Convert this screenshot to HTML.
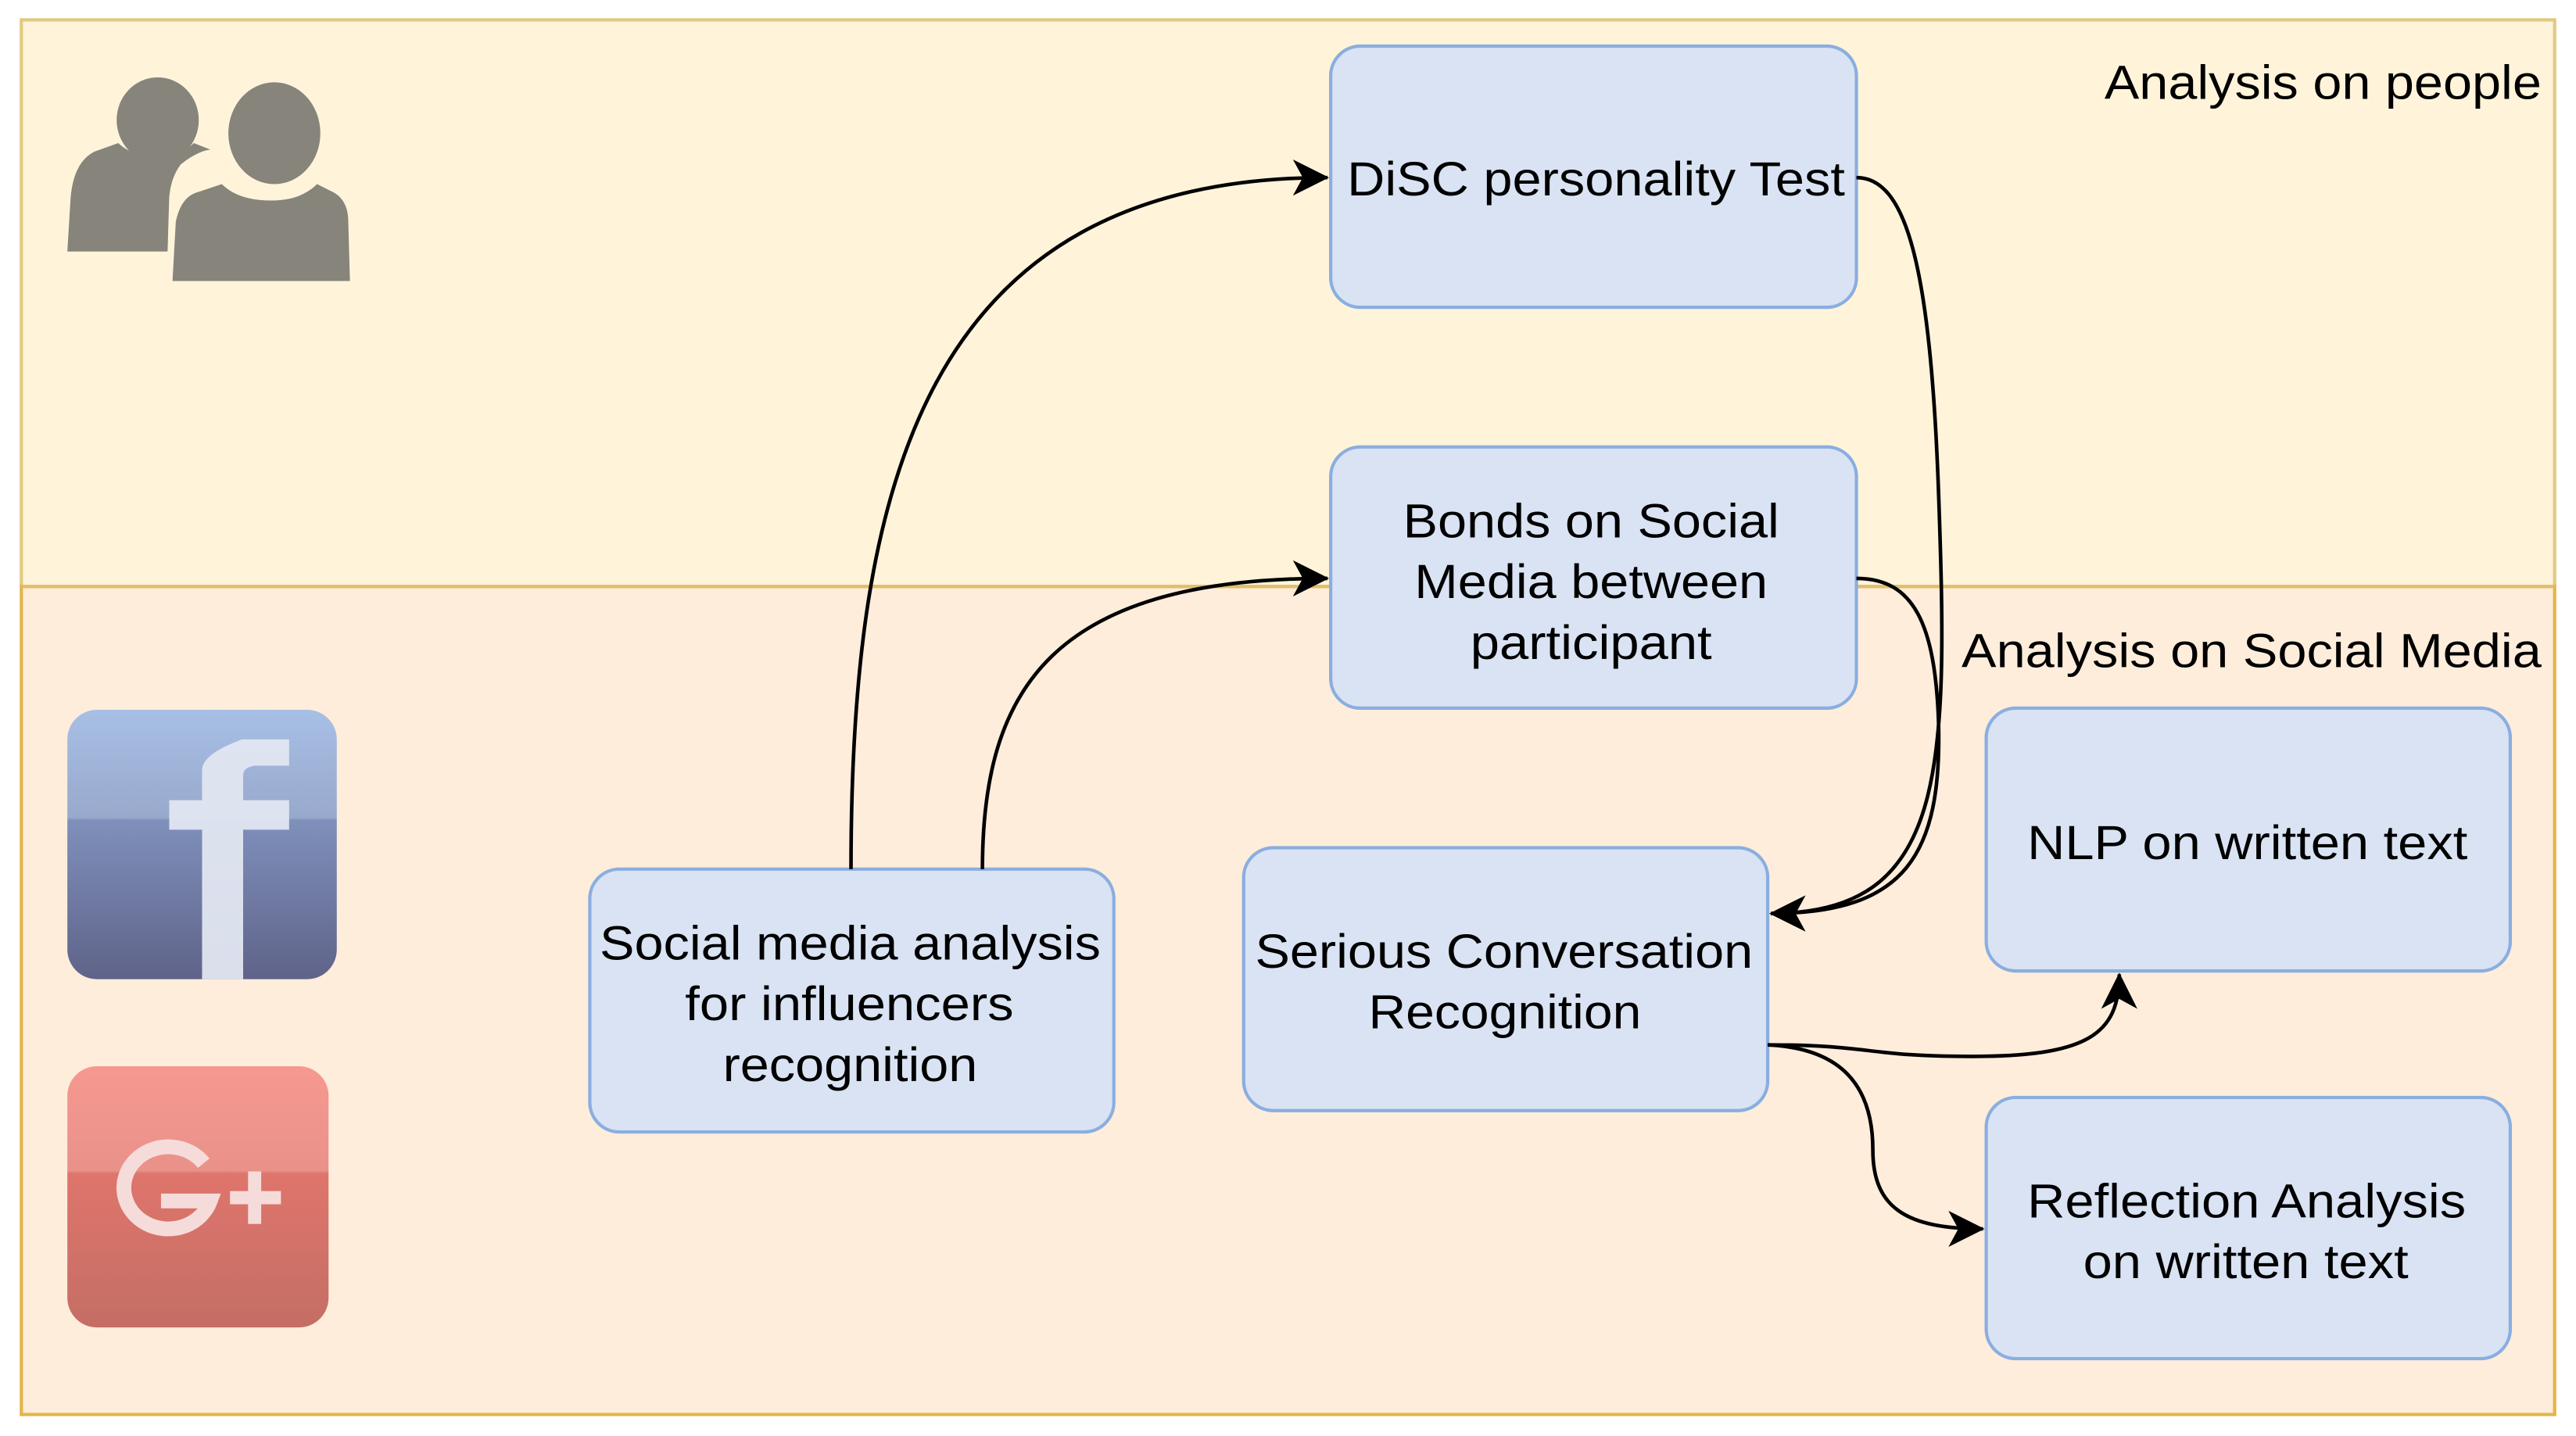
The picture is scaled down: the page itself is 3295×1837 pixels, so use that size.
<!DOCTYPE html>
<html><head><meta charset="utf-8"><style>
html,body{margin:0;padding:0;background:#fff;}
svg{display:block;}
text{font-family:"Liberation Sans",Arial,Helvetica,sans-serif;fill:#000;}
</style></head><body>
<svg width="3295" height="1837" viewBox="0 0 1568 874" xmlns="http://www.w3.org/2000/svg">
<defs>
<marker id="a2" markerWidth="22" markerHeight="22" refX="21" refY="11" orient="auto" markerUnits="userSpaceOnUse">
<path d="M0,0 L22,11 L0,22 L6,11 Z" fill="#000"/>
</marker>
<linearGradient id="fb" x1="0" y1="0" x2="0" y2="1"><stop offset="0" stop-color="#a8bfe6"/><stop offset="0.4" stop-color="#98a9cc"/><stop offset="0.41" stop-color="#7f90bb"/><stop offset="1" stop-color="#5f6389"/></linearGradient>
<linearGradient id="gp" x1="0" y1="0" x2="0" y2="1"><stop offset="0" stop-color="#f69890"/><stop offset="0.4" stop-color="#e9928a"/><stop offset="0.41" stop-color="#df756c"/><stop offset="1" stop-color="#c46e65"/></linearGradient>
</defs>
<rect x="0" y="0" width="1568" height="874" fill="#fff"/>
<rect x="13" y="12" width="1542" height="345" fill="#fff4da" stroke="#e1c982" stroke-width="2"/>
<rect x="13" y="357" width="1542" height="504" fill="#ffeddb" stroke="#e2b54a" stroke-width="2"/>
<line x1="13" y1="357" x2="1555" y2="357" stroke="#e0be6a" stroke-width="2"/>

<!-- people icon -->
<g fill="#86847b">
<ellipse cx="96" cy="73" rx="25" ry="26"/>
<ellipse cx="167" cy="81" rx="28" ry="31"/>
<path d="M41,153 L43,120 Q45,98 58,92 L72,87 Q80,95 96,95 Q110,95 118,87 L128,91 Q120,92 110,100 Q104,108 103,120 L102,153 Z"/>
<path d="M105,171 L107,135 Q110,120 120,117 L135,112 Q145,122 165,122 Q183,122 193,112 L203,117 Q212,122 212,135 L213,171 Z"/>
</g>

<!-- facebook -->
<rect x="41" y="432" width="164" height="164" rx="18" fill="url(#fb)"/>
<path d="M123,596 L123,505 L103,505 L103,487 L123,487 L123,468 Q124,460 140,453 L147,450 L176,450 L176,466 L155,466 Q148,467 148,472 L148,487 L176,487 L176,505 L148,505 L148,596 Z" fill="#e2e6f1" opacity="0.95"/>

<!-- google plus -->
<rect x="41" y="649" width="159" height="159" rx="18" fill="url(#gp)"/>
<g fill="none" stroke="#f5dcda" stroke-width="9">
<path d="M124,708 A27,25 0 1 0 128,731 L98,731"/>
</g>
<rect x="151" y="713" width="8" height="32" fill="#f5dcda"/>
<rect x="140" y="725" width="31" height="8" fill="#f5dcda"/>

<!-- boxes -->
<g fill="#d9e3f3" stroke="#8aaee0" stroke-width="2">
<rect x="810" y="28" width="320" height="159" rx="18"/>
<rect x="810" y="272" width="320" height="159" rx="18"/>
<rect x="359" y="529" width="319" height="160" rx="18"/>
<rect x="757" y="516" width="319" height="160" rx="18"/>
<rect x="1209" y="431" width="319" height="160" rx="18"/>
<rect x="1209" y="668" width="319" height="159" rx="18"/>
</g>

<!-- edges -->
<g fill="none" stroke="#000" stroke-width="2.2" marker-end="url(#a2)">
<path d="M518,529 C518,300 560,108 808,108"/>
<path d="M598,529 C598,420 640,352 808,352"/>
<path d="M1130,108 C1160,108 1175,160 1180,300 C1186,470 1185,556 1078,556"/>
<path d="M1130,352 C1165,352 1178,380 1180,440 C1182,520 1160,556 1078,556"/>
<path d="M1076,636 C1140,636 1135,643 1200,643 C1270,643 1290,630 1290,593"/>
<path d="M1076,636 C1120,638 1140,660 1140,700 C1140,735 1160,748 1207,748"/>
</g>

<!-- labels -->
<g font-size="29" lengthAdjust="spacingAndGlyphs">
<text x="820" y="119" textLength="303" lengthAdjust="spacingAndGlyphs">DiSC personality Test</text>
<text x="854" y="327" textLength="229" lengthAdjust="spacingAndGlyphs">Bonds on Social</text>
<text x="861" y="364" textLength="215" lengthAdjust="spacingAndGlyphs">Media between</text>
<text x="895" y="401" textLength="147" lengthAdjust="spacingAndGlyphs">participant</text>
<text x="365" y="584" textLength="305" lengthAdjust="spacingAndGlyphs">Social media analysis</text>
<text x="417" y="621" textLength="200" lengthAdjust="spacingAndGlyphs">for influencers</text>
<text x="440" y="658" textLength="155" lengthAdjust="spacingAndGlyphs">recognition</text>
<text x="764" y="589" textLength="303" lengthAdjust="spacingAndGlyphs">Serious Conversation</text>
<text x="833" y="626" textLength="166" lengthAdjust="spacingAndGlyphs">Recognition</text>
<text x="1234" y="523" textLength="268" lengthAdjust="spacingAndGlyphs">NLP on written text</text>
<text x="1234" y="741" textLength="267" lengthAdjust="spacingAndGlyphs">Reflection Analysis</text>
<text x="1268" y="778" textLength="198" lengthAdjust="spacingAndGlyphs">on written text</text>
<text x="1281" y="60" textLength="266" lengthAdjust="spacingAndGlyphs">Analysis on people</text>
<text x="1194" y="406" textLength="353" lengthAdjust="spacingAndGlyphs">Analysis on Social Media</text>
</g>
</svg>
</body></html>
